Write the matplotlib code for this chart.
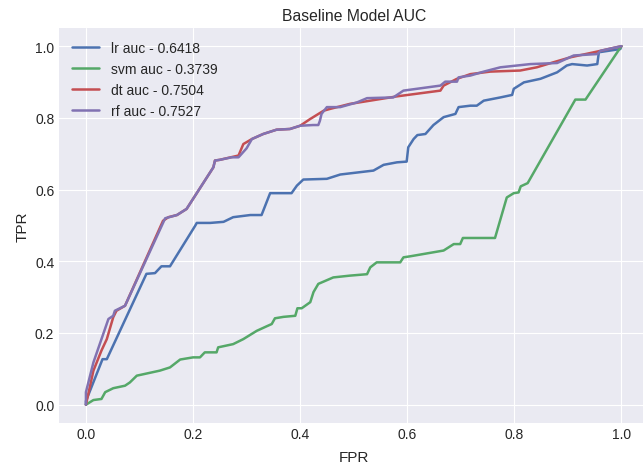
import matplotlib
matplotlib.use("Agg")
import matplotlib.pyplot as plt

plt.style.use("seaborn-v0_8-darkgrid")
plt.rcParams['font.family'] = ['Liberation Sans', 'DejaVu Sans']

# ROC points (fpr, tpr)
lr_fpr = [0.0, 0.0, 0.031, 0.039, 0.113, 0.129, 0.141, 0.157, 0.204, 0.207, 0.232, 0.257, 0.275,
          0.307, 0.328, 0.344, 0.384, 0.394, 0.406, 0.45, 0.475, 0.537, 0.556, 0.581, 0.599, 0.602,
          0.612, 0.619, 0.634, 0.649, 0.668, 0.69, 0.696, 0.718, 0.73, 0.743, 0.774, 0.796, 0.799,
          0.818, 0.849, 0.88, 0.898, 0.908, 0.936, 0.955, 0.958, 0.998, 1.0]
lr_tpr = [0.0, 0.01, 0.127, 0.127, 0.365, 0.367, 0.386, 0.386, 0.499, 0.507, 0.507, 0.51, 0.523,
          0.529, 0.529, 0.59, 0.59, 0.611, 0.628, 0.63, 0.642, 0.653, 0.669, 0.676, 0.678, 0.718,
          0.741, 0.752, 0.755, 0.78, 0.802, 0.811, 0.83, 0.834, 0.834, 0.848, 0.857, 0.864, 0.881,
          0.899, 0.909, 0.927, 0.946, 0.95, 0.946, 0.95, 0.983, 0.992, 1.0]

svm_fpr = [0.0, 0.014, 0.029, 0.036, 0.051, 0.073, 0.082, 0.095, 0.138, 0.157, 0.176, 0.2, 0.213,
           0.222, 0.244, 0.247, 0.275, 0.294, 0.319, 0.338, 0.347, 0.353, 0.369, 0.391, 0.395,
           0.403, 0.419, 0.425, 0.434, 0.462, 0.493, 0.525, 0.531, 0.543, 0.587, 0.593, 0.606,
           0.668, 0.687, 0.699, 0.704, 0.764, 0.786, 0.799, 0.808, 0.812, 0.825, 0.914, 0.933, 1.0]
svm_tpr = [0.0, 0.013, 0.016, 0.035, 0.046, 0.053, 0.062, 0.081, 0.095, 0.104, 0.126, 0.132, 0.132,
           0.146, 0.146, 0.16, 0.169, 0.183, 0.206, 0.219, 0.225, 0.241, 0.245, 0.248, 0.269,
           0.269, 0.286, 0.314, 0.337, 0.355, 0.36, 0.364, 0.383, 0.397, 0.397, 0.411, 0.414,
           0.43, 0.448, 0.448, 0.465, 0.465, 0.578, 0.59, 0.592, 0.609, 0.618, 0.851, 0.851, 1.0]

dt_fpr = [0.0, 0.014, 0.029, 0.039, 0.051, 0.057, 0.073, 0.144, 0.154, 0.17, 0.188, 0.238, 0.241,
          0.25, 0.285, 0.294, 0.31, 0.331, 0.356, 0.381, 0.4, 0.419, 0.444, 0.456, 0.493, 0.531,
          0.581, 0.662, 0.668, 0.693, 0.718, 0.755, 0.811, 0.842, 0.873, 0.905, 0.955, 1.0]
dt_tpr = [0.0, 0.095, 0.151, 0.183, 0.244, 0.262, 0.276, 0.513, 0.523, 0.529, 0.546, 0.662, 0.681,
          0.683, 0.695, 0.727, 0.741, 0.755, 0.767, 0.769, 0.778, 0.797, 0.82, 0.825, 0.839, 0.848,
          0.86, 0.876, 0.89, 0.909, 0.922, 0.929, 0.932, 0.941, 0.955, 0.969, 0.985, 1.0]

rf_fpr = [0.0, 0.0, 0.014, 0.042, 0.051, 0.054, 0.073, 0.148, 0.17, 0.188, 0.238, 0.241, 0.25,
          0.272, 0.285, 0.3, 0.31, 0.331, 0.356, 0.381, 0.4, 0.424, 0.434, 0.437, 0.44, 0.45,
          0.475, 0.506, 0.525, 0.574, 0.593, 0.662, 0.671, 0.693, 0.696, 0.718, 0.743, 0.774,
          0.83, 0.88, 0.911, 0.955, 0.961, 1.0]
rf_tpr = [0.0, 0.035, 0.118, 0.239, 0.248, 0.262, 0.276, 0.52, 0.529, 0.546, 0.662, 0.681, 0.683,
          0.69, 0.69, 0.715, 0.741, 0.755, 0.767, 0.769, 0.778, 0.78, 0.78, 0.792, 0.811, 0.83,
          0.83, 0.843, 0.855, 0.857, 0.876, 0.89, 0.901, 0.901, 0.913, 0.918, 0.929, 0.941,
          0.95, 0.953, 0.974, 0.978, 0.987, 1.0]

labels = ["lr auc - 0.6418", "svm auc - 0.3739", "dt auc - 0.7504", "rf auc - 0.7527"]
colors = ["#4C72B0", "#55A868", "#C44E52", "#8172B2"]

fig, ax = plt.subplots(figsize=(6.43, 4.64), dpi=100)
# axes runs a little past the right edge, as in the cropped original
fig.subplots_adjust(left=0.092, right=1.008, top=0.937, bottom=0.087)

curves = [(lr_fpr, lr_tpr), (svm_fpr, svm_tpr), (dt_fpr, dt_tpr), (rf_fpr, rf_tpr)]
for (f, t), lab, c in zip(curves, labels, colors):
    ax.plot(f, t, color=c, lw=1.8, label=lab)

ax.set_title("Baseline Model AUC", fontsize=11.3)
ax.set_xlabel("FPR", fontsize=11, labelpad=6)
ax.set_ylabel("TPR", fontsize=11)
ax.tick_params(labelsize=10)
ax.legend(loc="upper left", fontsize=10)

fig.savefig("out.png", dpi=100)
